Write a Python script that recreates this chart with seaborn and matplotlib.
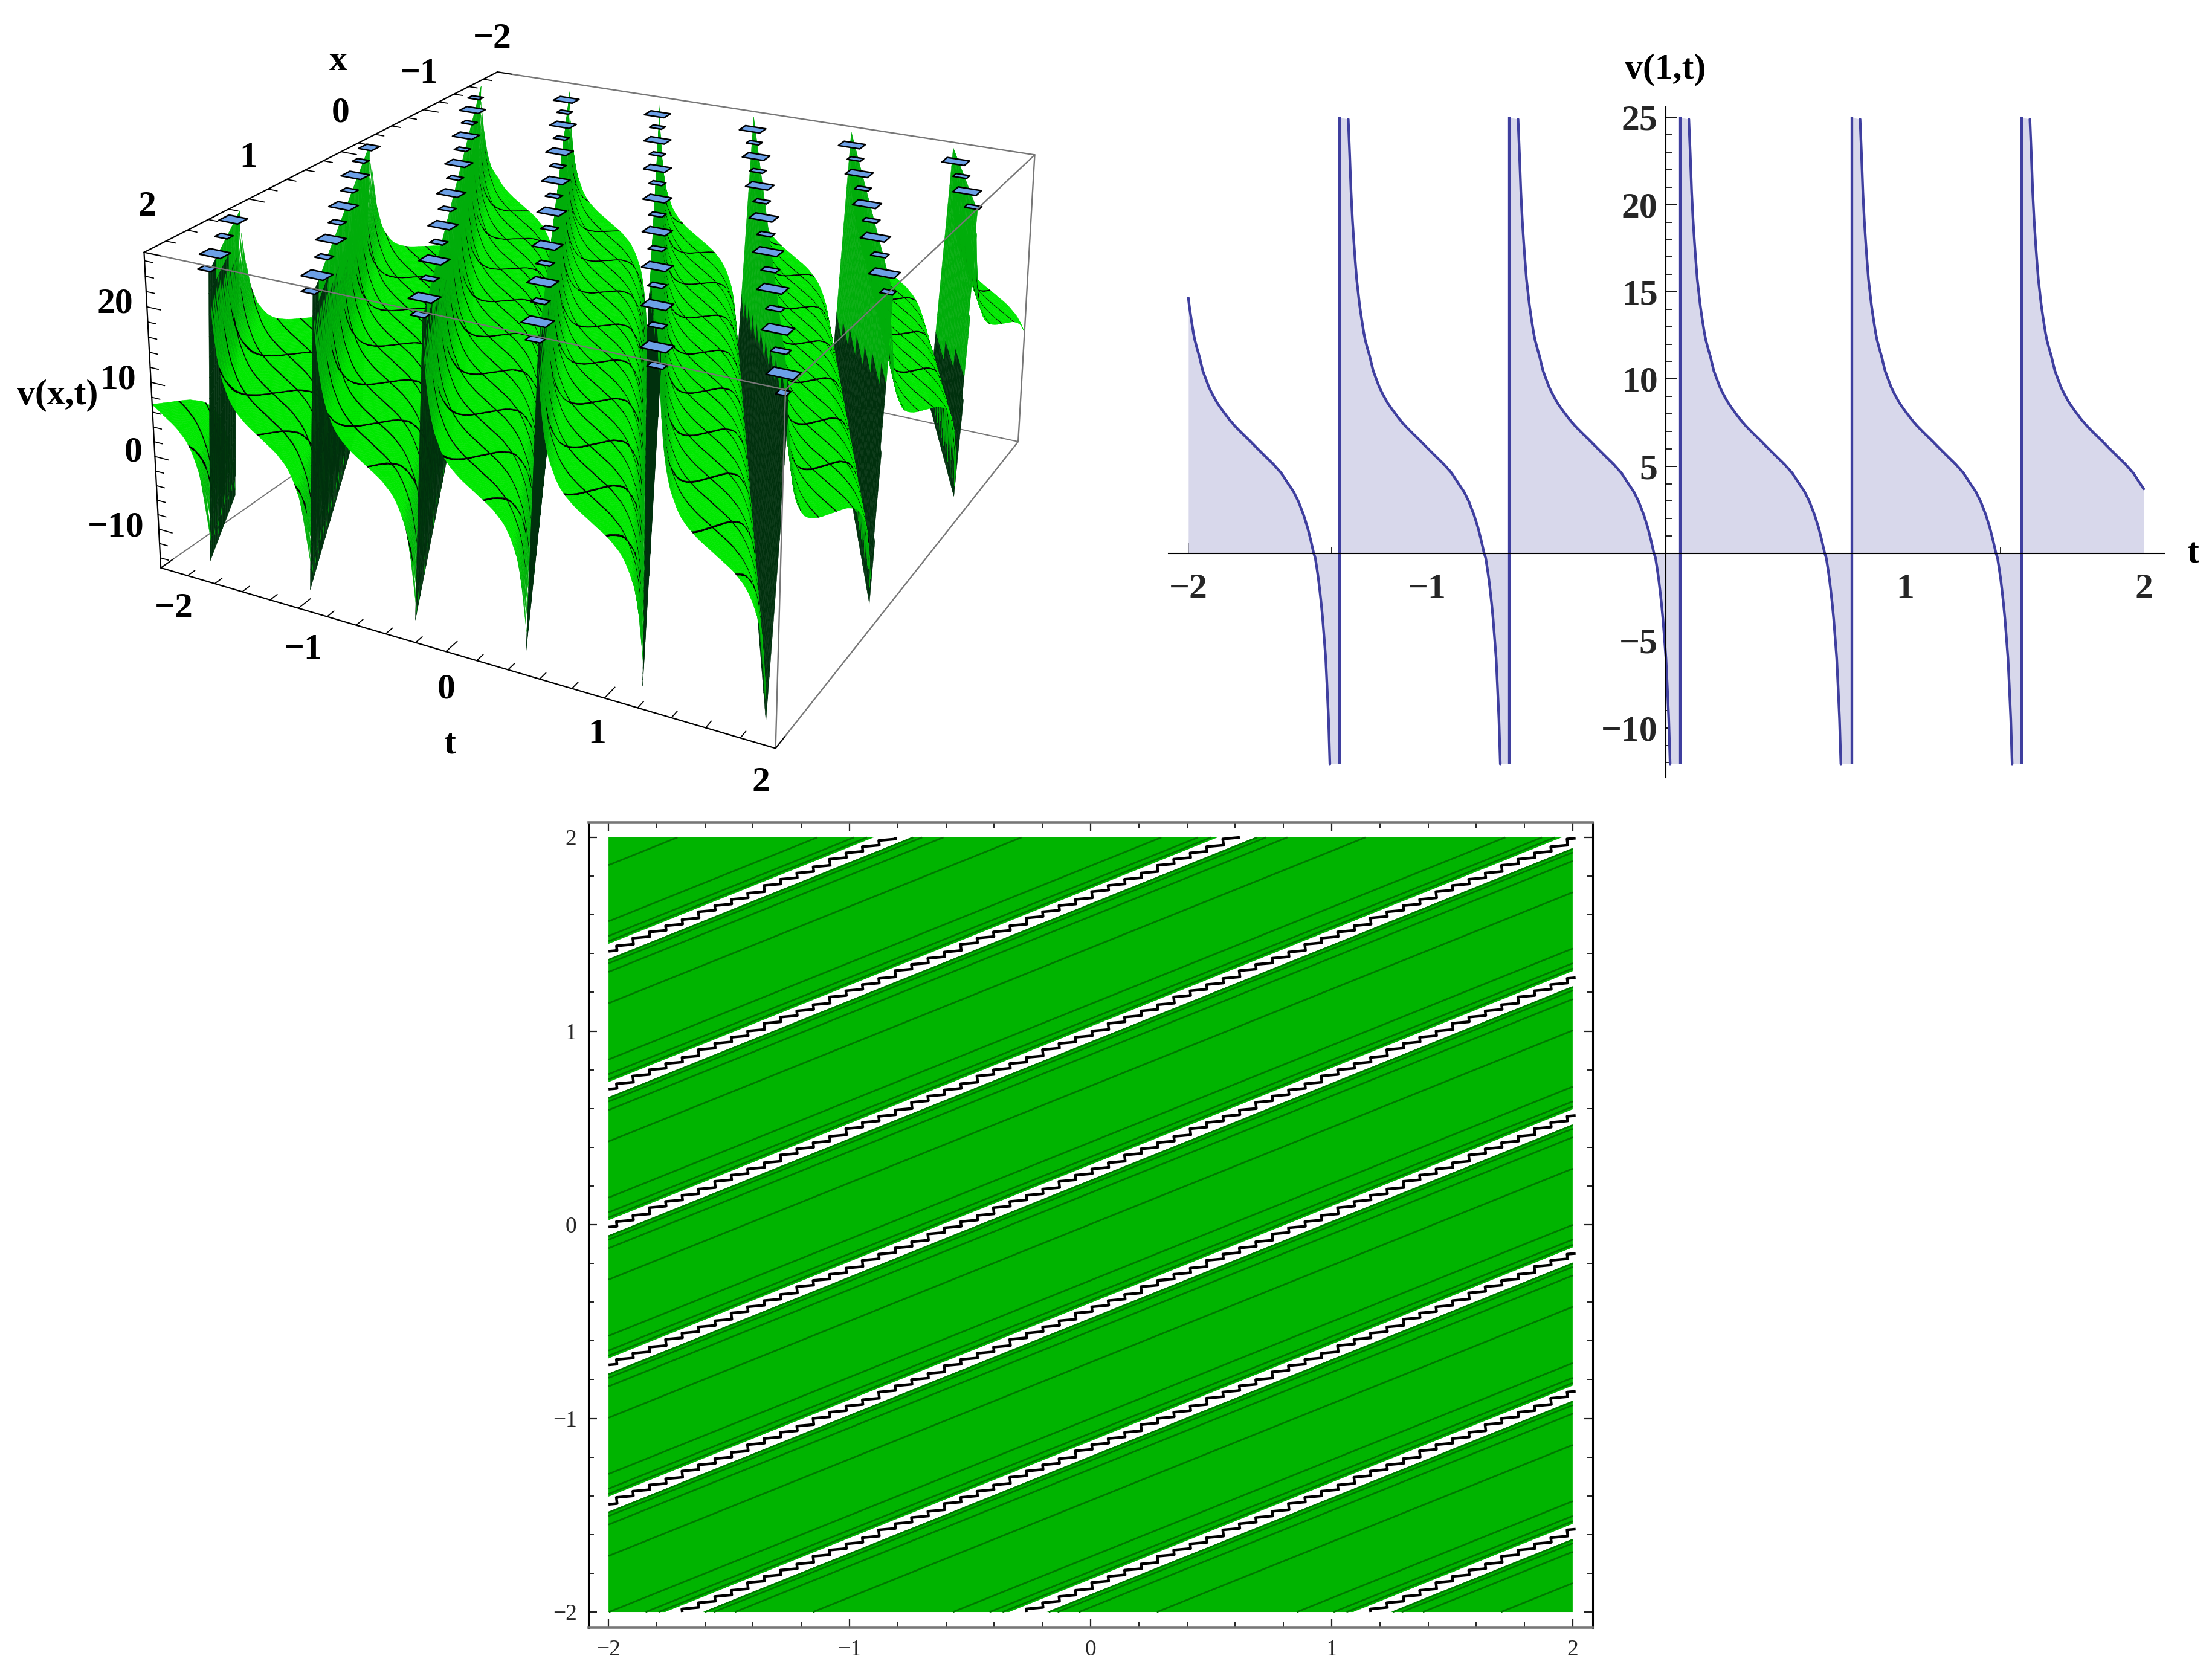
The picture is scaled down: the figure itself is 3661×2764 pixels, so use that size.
import numpy as np
import pandas as pd
import matplotlib
matplotlib.use("Agg")
import matplotlib.pyplot as plt
from matplotlib.ticker import MultipleLocator
from mpl_toolkits.mplot3d import Axes3D  # noqa
from mpl_toolkits.mplot3d.art3d import Poly3DCollection
import seaborn as sns

sns.set_theme(style="white")
plt.rcParams['font.family'] = ['Liberation Serif', 'DejaVu Sans']
plt.rcParams['axes.unicode_minus'] = True

W, H = 3662, 2764

lobe_dt = [0.0354, 0.0413, 0.0472, 0.0531, 0.059, 0.065, 0.0708, 0.0767, 0.0795, 0.0827, 0.0886, 0.0945,
           0.1004, 0.1063, 0.113, 0.119, 0.1248, 0.14, 0.1527, 0.1653, 0.182, 0.2007, 0.2244, 0.2497,
           0.275, 0.3045, 0.334, 0.3677, 0.4015, 0.4352, 0.469, 0.494, 0.512, 0.5196, 0.5406, 0.5617,
           0.5786, 0.5913, 0.604, 0.6107, 0.6174, 0.624, 0.63, 0.636, 0.642, 0.6478, 0.6545, 0.66,
           0.6663, 0.672]
lobe_v = [24.9, 22.9, 20.7, 19.1, 17.84, 16.7, 15.7, 15.0, 14.65, 14.27, 13.7, 13.17,
          12.66, 12.25, 11.9, 11.6, 11.33, 10.47, 10.0, 9.54, 9.08, 8.62, 8.16, 7.7,
          7.3, 6.89, 6.5, 6.03, 5.57, 5.12, 4.6, 4.07, 3.7, 3.55, 2.97, 2.22,
          1.48, 0.8, 0.03, -0.25, -0.83, -1.46, -2.15, -2.9, -3.77, -4.8, -6.0, -7.57,
          -9.5, -12.07]
# beyond the plot range, only used for the surface and the contours
near_pole_dt = [0.0, 0.02]
near_pole_v = [60.0, 40.0]
far_pole_dt = [0.69, 0.7135]
far_pole_v = [-30.0, -60.0]
period = 0.7135
poles_x1 = [-2.0795, -1.366, -0.655, 0.06, 0.777, 1.488]   # poles of v(1,t)
phase_slope = 0.5    # pole lines: t = 0.5 x + const
contour_levels = [-10, -5, 0, 5, 10, 15, 20]
band_low, band_high = -12.07, 25.0
z_clip = (-12.4, 26.3)
z_box = (-15.4, 27.1)
mesh_values = [-1.75, -1.5, -1.25, -1, -0.75, -0.5, -0.25, 0, 0.25, 0.5, 0.75, 1, 1.25, 1.5, 1.75]
cap_half_widths = [0.075, 0.045]

line_col = '#3F3F9F'
fill_col = '#D8D8EB'
green = '#00B400'

all_dt = np.array(near_pole_dt + lobe_dt + far_pole_dt)
all_v = np.array(near_pole_v + lobe_v + far_pole_v)
pole0 = poles_x1[3] - phase_slope * 1.0


def field(x, t):
    dt = np.mod(t - phase_slope * x - pole0, period)
    return dt, np.interp(dt, all_dt, all_v)


def rect(l, t, r, b):
    return [l / W, 1 - b / H, (r - l) / W, (b - t) / H]


def label(px, py, s, **kw):
    kw.setdefault('fontweight', 'bold')
    kw.setdefault('fontsize', 43)
    kw.setdefault('color', 'black')
    fig.text(px / W, 1 - py / H, s, ha='center', va='center', **kw)


fig = plt.figure(figsize=(W / 100, H / 100), dpi=100, facecolor='white')

# ---- right panel, v(1,t)
rows = []
ax2 = fig.add_axes(rect(1934, 177, 3582, 1287))
for i, p in enumerate(poles_x1):
    t_vals = p + np.array(lobe_dt)
    keep = (t_vals >= -2.0001) & (t_vals <= 2.0001)
    rows.append(pd.DataFrame({'t': t_vals[keep], 'v': np.array(lobe_v)[keep], 'branch': i}))
    t_fill = np.r_[p, t_vals, p + period]
    v_fill = np.r_[band_high, lobe_v, band_low]
    keep = (t_fill >= -2.0001) & (t_fill <= 2.0001)
    ax2.fill_between(t_fill[keep], v_fill[keep], 0, color=fill_col, lw=0, zorder=1)
df = pd.concat(rows)
sns.lineplot(data=df, x='t', y='v', units='branch', estimator=None, sort=False,
             color=line_col, lw=3.1, ax=ax2, zorder=3, legend=False)
ax2.vlines(poles_x1[1:], band_low, band_high, color=line_col, lw=3.1, zorder=3)
ax2.set_xlim(-2.083, 2.086)
ax2.set_ylim(-12.85, 25.6)
ax2.set_xlabel('')
ax2.set_ylabel('')
ax2.patch.set_alpha(0)
for s in ['top', 'right']:
    ax2.spines[s].set_visible(False)
ax2.spines['left'].set_position(('data', 0))
ax2.spines['bottom'].set_position(('data', 0))
for s in ['left', 'bottom']:
    ax2.spines[s].set_linewidth(1.5)
    ax2.spines[s].set_color('black')
    ax2.spines[s].set_zorder(5)
ax2.set_xticks([-2, -1, 1, 2])
ax2.set_xticklabels(['\u22122', '\u22121', '1', '2'], fontweight='bold', fontsize=43)
ax2.set_yticks([-10, -5, 5, 10, 15, 20, 25])
ax2.set_yticklabels(['\u221210', '\u22125', '5', '10', '15', '20', '25'], fontweight='bold', fontsize=43)
ax2.xaxis.set_minor_locator(MultipleLocator(0.2))
ax2.yaxis.set_minor_locator(MultipleLocator(1))
ax2.tick_params(axis='x', which='major', direction='in', length=13, width=1.3, pad=24, bottom=True, color='black')
ax2.tick_params(axis='x', which='minor', direction='in', length=8, width=1.2, bottom=True, color='black')
ax2.tick_params(axis='y', which='major', direction='in', length=13, width=1.3, pad=10, left=True, color='black')
ax2.tick_params(axis='y', which='minor', direction='in', length=8, width=1.2, left=True, color='black')
label(2756, 115, 'v(1,t)')
label(3630, 918, 't')

# ---- bottom panel, contours
ax3 = fig.add_axes(rect(974, 1361, 2636, 2694))
gx, gy = np.meshgrid(np.linspace(-2, 2, 801), np.linspace(-2, 2, 801))
dt, gz = field(gx, gy)
gz = np.ma.masked_where((dt < near_pole_dt[1]) | (dt > far_pole_dt[0]), gz)
ax3.contourf(gx, gy, gz, levels=[band_low, band_high], colors=[green], antialiased=True)
ax3.contour(gx, gy, gz, levels=contour_levels, colors=['#007800'], linewidths=2.0, linestyles='solid')
# black stepped trace where the function jumps, from a coarse sampling in x
cx, cy = np.meshgrid(np.arange(-2, 2.03, 0.068), np.arange(-2, 2.001, 0.008))
cdt, _ = field(cx, cy)
frac = cdt / period
frac = np.ma.masked_where((frac > 0.2) & (frac < 0.8), frac)
ax3.contour(cx, cy, frac, levels=[0.5], colors=['black'], linewidths=3.2)
ax3.set_xlim(-2.083, 2.083)
ax3.set_ylim(-2.081, 2.078)
ax3.set_xticks([-2, -1, 0, 1, 2])
ax3.set_yticks([-2, -1, 0, 1, 2])
ax3.set_xticklabels(['\u22122', '\u22121', '0', '1', '2'], fontsize=27)
ax3.set_yticklabels(['\u22122', '\u22121', '0', '1', '2'], fontsize=27)
ax3.xaxis.set_minor_locator(MultipleLocator(0.2))
ax3.yaxis.set_minor_locator(MultipleLocator(0.2))
ax3.tick_params(which='major', direction='in', length=10, width=1.6, top=True, right=True, bottom=True, left=True, pad=14, color='#222222')
ax3.tick_params(which='minor', direction='in', length=6.5, width=1.4, top=True, right=True, bottom=True, left=True, color='#222222')
for s in ['left', 'right']:
    ax3.spines[s].set_color('black')
    ax3.spines[s].set_linewidth(2.2)
for s in ['top', 'bottom']:
    ax3.spines[s].set_color('#777777')
    ax3.spines[s].set_linewidth(2.6)

# ---- left panel, 3D surface. projection fitted on the corners of the box
zb, zt = z_box
box_world = [(2, -2, zt), (-2, -2, zt), (-2, 2, zt), (2, 2, zt),
             (2, -2, zb), (2, 2, zb), (-2, 2, zb), (-2, -2, zb)]
box_pixels = [(237, 417), (826, 119), (1713, 257), (1297, 645),
              (268, 940), (1286, 1239), (1685, 730), (824, 547)]

ax1 = fig.add_axes(rect(0, 0, 1800, 1800), projection='3d', computed_zorder=False)
ax1.set_proj_type('ortho')   # no clipping of the lines in the custom projection
ax1.set_axis_off()
ax1.patch.set_alpha(0)
ax1.apply_aspect()
inv = ax1.transData.inverted()

zm, zs = (zt + zb) / 2, (zt - zb) / 2
rows_dlt = []
for (a, b, c), (u, v) in zip(box_world, box_pixels):
    p = [a / 2, b / 2, (c - zm) / zs, 1.0]
    u, v = u / 1000, v / 1000
    rows_dlt.append(p + [0, 0, 0, 0] + [-u * q for q in p])
    rows_dlt.append([0, 0, 0, 0] + p + [-v * q for q in p])
_, _, vt = np.linalg.svd(np.array(rows_dlt))
P = vt[-1].reshape(3, 4)
norm = np.array([[0.5, 0, 0, 0], [0, 0.5, 0, 0], [0, 0, 1 / zs, -zm / zs], [0, 0, 0, 1]])
P = P @ norm
P[:2] *= 1000
wf = P[2] @ np.array([2, 2, zb, 1.0])
if wf < 0:
    P = -P
# image pixels -> the 2d limits of the 3d axes
o = inv.transform((0, H))
ex = inv.transform((1, H)) - o
ey = inv.transform((0, H - 1)) - o
M = np.zeros((4, 4))
M[0] = ex[0] * P[0] + ey[0] * P[1] + o[0] * P[2]
M[1] = ex[1] * P[0] + ey[1] * P[1] + o[1] * P[2]
M[3] = P[2]
wmin = min((P[2] @ np.array([a, b, c, 1.0])) for a, b, c in box_world)
M[2] = P[2] - np.array([0, 0, 0, wmin * 0.5])
ax1.get_proj = lambda: M
ax1.set_xlim(-2, 2)
ax1.set_ylim(-2, 2)
ax1.set_zlim(zb, zt)

strip_x = 0.016
strip_t = 0.011
x_rows = np.unique(np.round(np.r_[np.arange(-2, 2.001, 0.05), np.array(mesh_values) + strip_x], 5))
t_cols = np.unique(np.round(np.r_[np.arange(-2, 2.001, 0.01), np.array(mesh_values) + strip_t], 5))
SX, ST = np.meshgrid(x_rows, t_cols, indexing='ij')
Sdt, SZ = field(SX, ST)
SZ = np.clip(SZ, z_clip[0], z_clip[1])

# flat shading from the face normals
nx, nt, nz = SX / 4, ST / 4, SZ / (zt - zb) * 0.45
d1 = np.stack([nx[1:, 1:] - nx[:-1, :-1], nt[1:, 1:] - nt[:-1, :-1], nz[1:, 1:] - nz[:-1, :-1]], -1)
d2 = np.stack([nx[1:, :-1] - nx[:-1, 1:], nt[1:, :-1] - nt[:-1, 1:], nz[1:, :-1] - nz[:-1, 1:]], -1)
nrm = np.cross(d2, d1)
nrm /= np.linalg.norm(nrm, axis=-1, keepdims=True) + 1e-12
s = np.clip((np.abs(nrm[..., 2]) - 0.1) / 0.28, 0, 1)
steep_col = np.array([0.0, 0.68, 0.04])
flat_col = np.array([0.0, 0.91, 0.0])
dark_col = np.array([0.0, 0.19, 0.05])
cols = np.ones(s.shape + (4,))
cols[..., :3] = steep_col + (flat_col - steep_col) * s[..., None]
corners = np.stack([Sdt[:-1, :-1], Sdt[1:, :-1], Sdt[:-1, 1:], Sdt[1:, 1:]], -1)
# quads at the poles are left out, the walls below take their place
near_wall = (corners.min(-1) < lobe_dt[0]) | (corners.max(-1) > lobe_dt[-1])
# mesh lines as thin black strips so that they hide correctly, not on the steep parts
gentle = (corners.min(-1) > 0.055) & (corners.max(-1) < 0.655)
row_mask = np.isin(np.round(x_rows[:-1], 5), mesh_values)
col_mask = np.isin(np.round(t_cols[:-1], 5), mesh_values)
cols[(row_mask[:, None] | col_mask[None, :]) & gentle, :3] = 0

V = np.stack([SX, ST, SZ], -1)
quads = np.stack([V[:-1, :-1], V[1:, :-1], V[1:, 1:], V[:-1, 1:]], 2)
all_quads = [quads[~near_wall]]
all_cols = [cols[~near_wall]]

# the walls at the poles, in slices so that only their lower part is dark
frac_z = np.linspace(0, 1, 15)
zw = z_clip[0] + (z_clip[1] - z_clip[0]) * frac_z
tw = -0.045 + 0.085 * frac_z
wall_quads, wall_cols = [], []
for k in range(-6, 8):
    for x0, x1 in zip(x_rows[:-1], x_rows[1:]):
        p0 = phase_slope * x0 + pole0 + k * period
        p1 = phase_slope * x1 + pole0 + k * period
        for j in range(len(frac_z) - 1):
            ta0, ta1 = p0 + tw[j], p1 + tw[j]
            tb0, tb1 = p0 + tw[j + 1], p1 + tw[j + 1]
            if min(ta0, ta1, tb0, tb1) < -2 or max(ta0, ta1, tb0, tb1) > 2:
                continue
            wall_quads.append([(x0, ta0, zw[j]), (x1, ta1, zw[j]), (x1, tb1, zw[j + 1]), (x0, tb0, zw[j + 1])])
            low = (zw[j] + zw[j + 1]) / 2 + (2 - (x0 + x1) / 2) * 7.3 < z_clip[1]
            wall_cols.append(np.r_[dark_col if low else steep_col, 1.0])
all_quads.append(np.array(wall_quads))
all_cols.append(np.array(wall_cols))
all_quads = np.concatenate(all_quads)
all_cols = np.concatenate(all_cols)

grey = '#777777'
ax1.plot([2, -2], [-2, -2], [zb, zb], color=grey, lw=1.4, zorder=1)
ax1.plot([-2, -2], [-2, 2], [zb, zb], color=grey, lw=1.4, zorder=1)
surf = Poly3DCollection(all_quads, facecolors=all_cols, edgecolors=all_cols, linewidths=0.35, zorder=2)
ax1.add_collection3d(surf)

# the flat pieces where the plot range cuts off the ridges
cap_rows = mesh_values + [2 - 0.04]
cap_polys = []
for i, xc in enumerate(cap_rows):
    w = cap_half_widths[i % 2]
    for k in range(-6, 8):
        tc = phase_slope * xc + pole0 + k * period + 0.02
        if tc < -2 or tc > 2:
            continue
        t0, t1 = max(tc - w, -2), min(tc + w, 2)
        hx = 0.05 if w > 0.05 else 0.03
        cap_polys.append([(xc - hx, t0, z_clip[1]), (xc + hx, t0, z_clip[1]),
                          (xc + hx, t1, z_clip[1]), (xc - hx, t1, z_clip[1])])
caps = Poly3DCollection(cap_polys, facecolors='#6CA0E6', edgecolors='black', linewidths=1.8, zorder=3)
ax1.add_collection3d(caps)

for a, b in [((-2, -2, zt), (-2, 2, zt)), ((-2, 2, zt), (2, 2, zt)), ((2, -2, zt), (2, 2, zt)),
             ((2, 2, zt), (2, 2, zb)), ((-2, 2, zt), (-2, 2, zb)), ((-2, 2, zb), (2, 2, zb))]:
    ax1.plot(*zip(a, b), color=grey, lw=1.7, zorder=4)
for a, b in [((2, -2, zt), (-2, -2, zt)), ((2, -2, zb), (2, 2, zb)), ((2, -2, zt), (2, -2, zb))]:
    ax1.plot(*zip(a, b), color='black', lw=1.6, zorder=5)

for v in np.arange(-2, 2.01, 0.2):
    major = abs(v - round(v)) < 1e-6
    n = 0.12 if major else 0.07
    ax1.plot([2, 2 - n], [v, v], [zb, zb], color='black', lw=1.3, zorder=5)
    ax1.plot([v, v], [-2, -2 + n], [zt, zt], color='black', lw=1.3, zorder=5)
for v in np.arange(-14, 27, 2):
    n = 0.1 if v % 10 == 0 else 0.06
    ax1.plot([2, 2], [-2, -2 + n], [v, v], color='black', lw=1.3, zorder=5)

for px, py, s_ in [(288, 1008, '\u22122'), (502, 1076, '\u22121'), (739, 1141, '0'), (988, 1216, '1'), (1259, 1296, '2'),
                   (745, 1234, 't'), (243, 343, '2'), (411, 262, '1'), (564, 188, '0'), (694, 123, '\u22121'),
                   (815, 65, '\u22122'), (560, 102, 'x'), (190, 504, '20'), (195, 629, '10'), (221, 749, '0'),
                   (192, 873, '\u221210'), (95, 654, 'v(x,t)')]:
    label(px, py, s_)

fig.savefig('out.png', dpi=100, facecolor='white')
